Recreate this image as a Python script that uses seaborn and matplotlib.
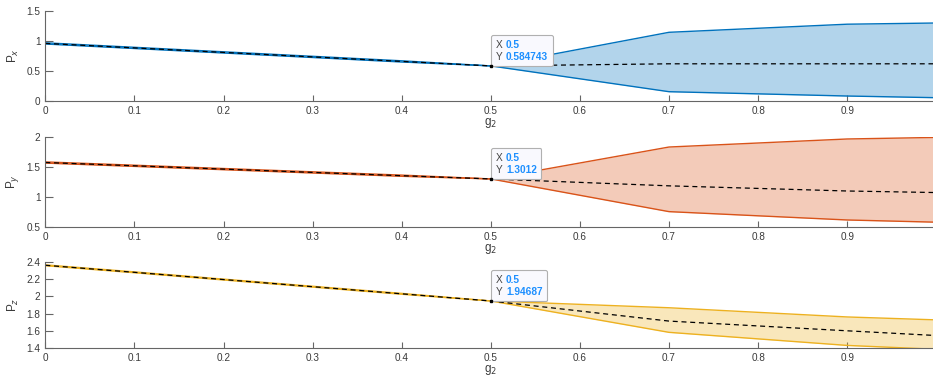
import numpy as np
import pandas as pd
import seaborn as sns
import matplotlib
matplotlib.use("Agg")
import matplotlib.pyplot as plt
from matplotlib.ticker import FuncFormatter
from matplotlib.offsetbox import TextArea, VPacker, HPacker, AnnotationBbox

# ---- data ----
g2 = [0.0, 0.1, 0.2, 0.3, 0.4, 0.5, 0.7, 0.9, 1.0]

px_mean = [0.96, 0.885, 0.81, 0.735, 0.66, 0.584743, 0.62, 0.62, 0.62]
px_upper = [0.97, 0.895, 0.82, 0.745, 0.67, 0.584743, 1.145, 1.28, 1.30]
px_lower = [0.95, 0.875, 0.80, 0.725, 0.65, 0.584743, 0.155, 0.083, 0.055]

py_mean = [1.575, 1.52, 1.465, 1.41, 1.355, 1.3012, 1.186, 1.10, 1.074]
py_upper = [1.585, 1.53, 1.475, 1.42, 1.365, 1.3012, 1.833, 1.967, 1.993]
py_lower = [1.565, 1.51, 1.455, 1.40, 1.345, 1.3012, 0.756, 0.617, 0.58]

pz_mean = [2.362, 2.28, 2.196, 2.113, 2.03, 1.94687, 1.713, 1.60, 1.545]
pz_upper = [2.367, 2.285, 2.201, 2.118, 2.035, 1.94687, 1.868, 1.761, 1.727]
pz_lower = [2.357, 2.275, 2.191, 2.108, 2.025, 1.94687, 1.582, 1.43, 1.385]

tip_x = 0.5
y_labels = ["P$_x$", "P$_y$", "P$_z$"]
x_ticks = [0, 0.1, 0.2, 0.3, 0.4, 0.5, 0.6, 0.7, 0.8, 0.9]
y_ticks = [[0, 0.5, 1, 1.5], [0.5, 1, 1.5, 2], [1.4, 1.6, 1.8, 2.0, 2.2, 2.4]]
y_lims = [(0, 1.5), (0.5, 2), (1.4, 2.4)]
colors = ["#0072BD", "#D95319", "#EDB120"]

# ---- figure ----
sns.set_theme(style="ticks")
plt.rcParams["font.family"] = ["Liberation Sans", "DejaVu Sans"]

W, H = 933, 377
fig = plt.figure(figsize=(W / 100, H / 100), dpi=100)

left = 45.3 / W
width = 891 / W
panels = [(11, 101), (137, 227), (262, 348)]

series = [
    (px_mean, px_upper, px_lower),
    (py_mean, py_upper, py_lower),
    (pz_mean, pz_upper, pz_lower),
]

axis_col = "#666666"
text_col = "#3a3a3a"

for i, ((top, bot), (m, up, lo)) in enumerate(zip(panels, series)):
    ax = fig.add_axes([left, 1 - bot / H, width, (bot - top) / H])
    df = pd.DataFrame({"g2": g2, "mean": m, "upper": up, "lower": lo})
    c = colors[i]
    ax.fill_between(df["g2"], df["lower"], df["upper"], color=c, alpha=0.3, lw=0)
    sns.lineplot(data=df, x="g2", y="upper", ax=ax, color=c, lw=1.0)
    sns.lineplot(data=df, x="g2", y="lower", ax=ax, color=c, lw=1.0)
    sns.lineplot(data=df, x="g2", y="mean", ax=ax, color="black", lw=0.9,
                 linestyle=(0, (4, 3)))
    ax.set_xlim(0, 1)
    ax.set_ylim(*y_lims[i])
    ax.set_xticks(x_ticks)
    ax.set_yticks(y_ticks[i])
    fmt = FuncFormatter(lambda v, p: f"{v:g}")
    ax.xaxis.set_major_formatter(fmt)
    ax.yaxis.set_major_formatter(fmt)
    ax.tick_params(axis="both", direction="in", labelsize=7.2, colors=axis_col,
                   labelcolor=text_col, width=0.8)
    ax.tick_params(axis="y", length=6)
    ax.tick_params(axis="x", length=4, pad=3.5)
    for s in ["top", "right"]:
        ax.spines[s].set_visible(False)
    for s in ["left", "bottom"]:
        ax.spines[s].set_color(axis_col)
        ax.spines[s].set_linewidth(0.8)
    ax.set_xlabel("g$_2$", fontsize=8.5, color=text_col, labelpad=0.3)
    ax.set_ylabel(y_labels[i], fontsize=8.5, color=text_col)
    ax.yaxis.set_label_coords(-0.027, 0.5)

    # data tip
    yv = m[g2.index(tip_x)]
    ax.plot([tip_x], [yv], marker="s", ms=2, color="black", zorder=5)
    tp_l = dict(size=7.3, color="#444444")
    tp_v = dict(size=7.3, color="#1E90FF", weight="bold")
    lab = VPacker(children=[TextArea("X", textprops=tp_l),
                            TextArea("Y", textprops=tp_l)],
                  align="left", pad=0, sep=1.5)
    vals = VPacker(children=[TextArea(f"{tip_x:g}", textprops=tp_v),
                             TextArea(f"{yv:g}", textprops=tp_v)],
                   align="left", pad=0, sep=1.5)
    box = HPacker(children=[lab, vals], align="top", pad=0, sep=2.5)
    ab = AnnotationBbox(box, (tip_x, yv), xybox=(3.5, 3.0), boxcoords="offset points",
                        box_alignment=(0, 0), frameon=True, pad=0.3,
                        bboxprops=dict(boxstyle="round,pad=0.3,rounding_size=0.12",
                                       fc="#f9f9fe", ec="#b0b0b0", lw=0.8))
    ax.add_artist(ab)

fig.savefig("out.png", dpi=100)
